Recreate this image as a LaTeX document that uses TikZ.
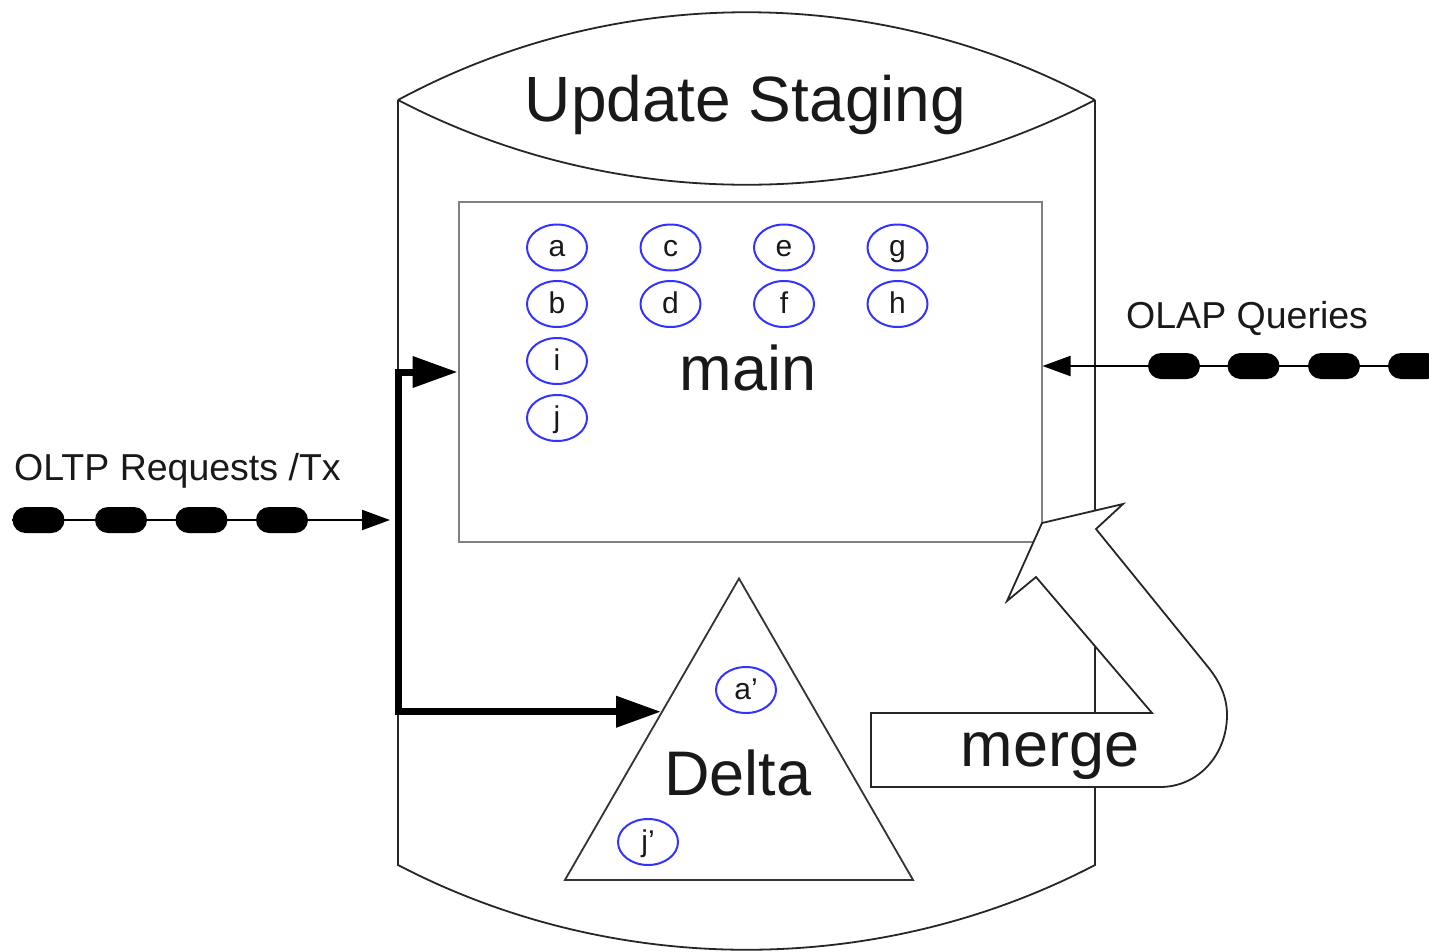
\documentclass[tikz,border=0pt]{standalone}
\usepackage{fontspec}
\setmainfont{Liberation Sans}
\usepackage{tikz}
\usetikzlibrary{arrows.meta}
\usetikzlibrary{positioning}
\usetikzlibrary{shapes.geometric}

\begin{document}
\begin{tikzpicture}[x=1pt, y=-1pt,
    every node/.style={inner sep=0pt, text=black!90},
    cyl/.style={draw=black!85, line width=1.8pt},
    bigtext/.style={font=\fontsize{63}{63}\selectfont},
    midtext/.style={font=\fontsize{37.5}{37.5}\selectfont},
    item/.style={ellipse, draw=blue!80, line width=2pt, minimum width=60pt, minimum height=46pt,
                 font=\fontsize{30}{30}\selectfont, text height=21pt, text depth=3pt},
    pill/.style={rectangle, rounded corners=13pt, fill=black, minimum width=52pt, minimum height=26pt},
    flow/.style={line width=2pt, -{Triangle[length=28pt, width=20pt]}},
    feed/.style={line width=7pt, {Triangle[length=45pt, width=30pt]}-{Triangle[length=45pt, width=30pt]}}]

        \useasboundingbox (0,0) rectangle (1429,951);

        % Cilindro
        \draw[cyl] (398,100) .. controls (615,-17) and (878,-17) .. (1095,100);
        \draw[cyl] (398,100) .. controls (615,213) and (878,213) .. (1095,100);
        \draw[cyl] (398,100) -- (398,865) .. controls (615,978) and (878,978) .. (1095,865) -- (1095,100);
        \node[bigtext, anchor=base, font=\fontsize{64}{64}\selectfont] (title) at (745.5,121.7) {Update Staging};

        % Nodos
        \node[draw=black!50, line width=2pt, minimum width=583pt, minimum height=340pt] (main) at (750,372) {};
        \node[bigtext, anchor=base] (maintext) at (748,390) {main};
        \foreach \x/\up/\dn in {557/a/b, 670.5/c/d, 784/e/f, 897.5/g/h} {
            \node[item] (\up) at (\x,247.5) {\up};
            \node[item] (\dn) at (\x,304) {\dn};
        }
        \node[item] (i) at (557,361) {i};
        \node[item] (j) at (557,418) {j};

        \node[regular polygon, regular polygon sides=3, draw=black!80, line width=1.8pt,
              minimum size=402pt] (delta) at (739,779.5) {};
        \node[bigtext, anchor=base] (deltatext) at (738,795) {Delta};
        \node[item] (a2) at (746,690) {a’};
        \node[item] (j2) at (648,842) {j’};

        % Merge
        \draw[cyl, fill=white] (871,713) -- (1152,713) -- (1036,577) -- (1007,601) -- (1042,523)
            -- (1123,504) -- (1096,529) -- (1208,667)
            .. controls (1220,682) and (1227,697) .. (1227,715)
            .. controls (1227,754) and (1199,787) .. (1160,787) -- (871,787) -- cycle;
        \node[bigtext, anchor=base] (merge) at (1050,766.7) {merge};

        % Aristas
        \coordinate (oltpin) at (12,520);
        \coordinate (fork) at (398,520);
        \draw[flow, shorten >=8pt] (oltpin) -- (fork);
        \foreach \x [count=\k] in {38.5,121,201.5,282}
            \node[pill] (tx\k) at (\x,520) {};
        \node[midtext, anchor=base west] (oltp) at (14,480) {OLTP Requests /Tx};

        \coordinate (olapin) at (1429,366);
        \draw[flow] (olapin) -- (olapin -| main.east);
        \foreach \x [count=\k] in {1174,1253.5,1334,1414}
            \node[pill] (q\k) at (\x,366) {};
        \node[midtext, anchor=base west] (olap) at (1126,328) {OLAP Queries};

        \draw[feed] (main.west) -| (fork) |- (delta.139.5);

    \end{tikzpicture}
\end{document}
